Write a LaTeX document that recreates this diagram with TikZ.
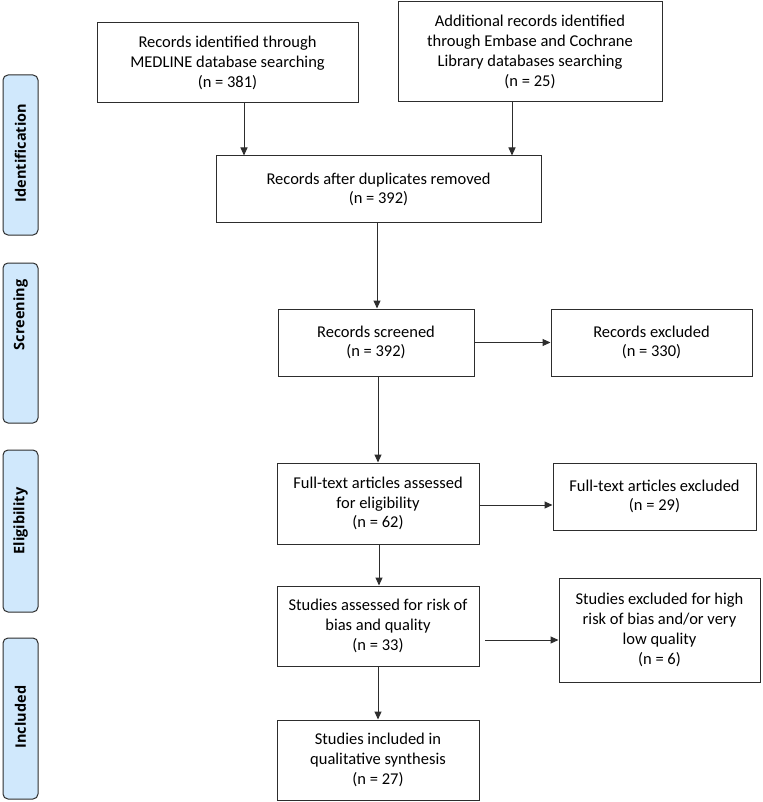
\documentclass[tikz,border=0pt]{standalone}
\usepackage{fontspec}
\setmainfont{Carlito}
\newfontfamily\sidefont{Open Sans}
\usetikzlibrary{arrows.meta,calc}
\definecolor{lineg}{RGB}{45,45,45}
\definecolor{sidefill}{RGB}{208,232,252}
\tikzset{
  box/.style={draw=lineg, line width=1pt, align=center, inner sep=0pt, font=\fontsize{16.5}{19.8}\selectfont},
  side/.style={draw=lineg, line width=1pt, fill=sidefill, rounded corners=5pt},
  sidetext/.style={rotate=90, font=\sidefont\fontsize{14.5}{16}\selectfont\bfseries},
  arr/.style={draw=lineg, line width=1pt, -{Triangle[length=8pt,width=7pt]}}
}
\newcommand{\bx}[6]{% name, x1, y1, x2, y2, text
  \node[box, minimum width={(#4-#2)*1pt}, minimum height={(#5-#3)*1pt}] (#1) at ({(#2+#4)/2*1pt},{-(#3+#5)/2*1pt}) {#6};}
\begin{document}
\begin{tikzpicture}[x=1pt,y=-1pt]
\useasboundingbox (0,0) rectangle (762,802);
% side labels
\draw[side] (3,75) rectangle (38,235);
\node[sidetext] (s1) at (20.5,153) {Identification};
\draw[side] (3,263) rectangle (38,423);
\node[sidetext] (s2) at (20.5,315) {Screening};
\draw[side] (3,450) rectangle (38,612);
\node[sidetext] (s3) at (20.5,521) {Eligibility};
\draw[side] (3,638) rectangle (38,799);
\node[sidetext] (s4) at (20.5,717) {Included};
% boxes
\bx{A}{97}{23}{358}{103}{Records identified through\\MEDLINE database searching\\(n = 381)}
\bx{B}{398}{2}{662}{102}{Additional records identified\\through Embase and Cochrane\\Library databases searching\\(n = 25)}
\bx{C}{216}{156}{541}{223}{Records after duplicates removed\\(n = 392)}
\bx{D}{278}{309}{474}{376}{Records screened\\(n = 392)}
\bx{E}{551}{309}{752}{376}{Records excluded\\(n = 330)}
\bx{F}{277}{463}{479}{544}{Full-text articles assessed\\for eligibility\\(n = 62)}
\bx{G}{553}{463}{756}{530}{Full-text articles excluded\\(n = 29)}
\bx{H}{277}{586}{479}{666}{Studies assessed for risk of\\bias and quality\\(n = 33)}
\bx{I}{559}{578}{760}{682}{Studies excluded for high\\risk of bias and/or very\\low quality\\(n = 6)}
\bx{J}{277}{720}{479}{800}{Studies included in\\qualitative synthesis\\(n = 27)}
% connector helper coordinates
\coordinate (xa) at (244,0);
\coordinate (xb) at (512,0);
\coordinate (xc) at (377,0);
\coordinate (xd) at (378,0);
\coordinate (xf) at (379,0);
\coordinate (yg) at (0,505);
\coordinate (yh) at (485,640);
% connectors
\draw[arr] (A.south -| xa) -- (C.north -| xa);
\draw[arr] (B.south -| xb) -- (C.north -| xb);
\draw[arr] (C.south -| xc) -- (D.north -| xc);
\draw[arr] (D.east) -- (E.west);
\draw[arr] (D.south -| xd) -- (F.north -| xd);
\draw[arr] (F.east |- yg) -- (G.west |- yg);
\draw[arr] (F.south -| xf) -- (H.north -| xf);
\draw[arr] (yh) -- (I.west |- yh);
\draw[arr] (H.south -| xd) -- (J.north -| xd);
\end{tikzpicture}
\end{document}
